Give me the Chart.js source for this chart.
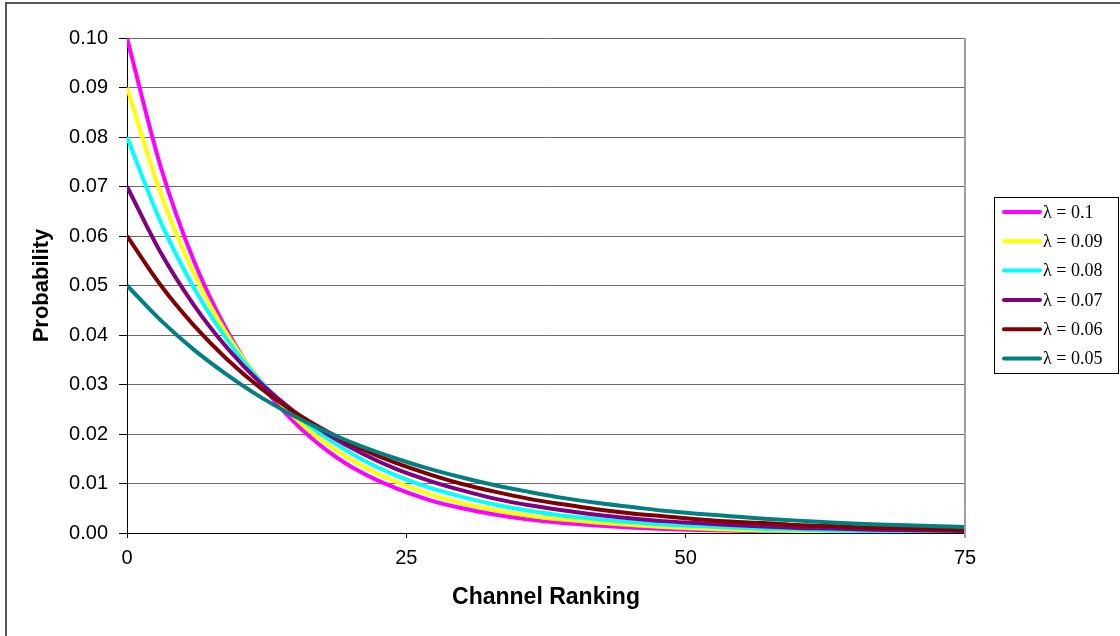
<!DOCTYPE html>
<html>
<head>
<meta charset="utf-8">
<script src="https://cdn.jsdelivr.net/npm/chart.js@4/dist/chart.umd.min.js"></script>
<style>
  html, body { margin: 0; padding: 0; background: #fff; }
  #wrap { position: relative; width: 1120px; height: 636px; overflow: hidden; }
</style>
</head>
<body>
<div id="wrap"><canvas id="c" width="1120" height="636"></canvas></div>
<script>
// Channel ranking positions (x)
const ranks = [0,3,6,9,12,15,18,21,24,27,30,33,36,39,42,45,48,51,54,57,60,63,66,69,72,75];

// Series labels
const seriesLabels = ['\u03BB = 0.1','\u03BB = 0.09','\u03BB = 0.08','\u03BB = 0.07','\u03BB = 0.06','\u03BB = 0.05'];

// Probability values
const lambda010 = [0.1000,0.0741,0.0549,0.0407,0.0301,0.0223,0.0165,0.0122,0.0091,0.0067,0.0050,0.0037,0.0027,0.0020,0.0015,0.0011,0.0008,0.0006,0.0005,0.0003,0.0002,0.0002,0.0001,0.0001,0.0001,0.0001];
const lambda009 = [0.0900,0.0687,0.0524,0.0400,0.0306,0.0233,0.0178,0.0136,0.0104,0.0079,0.0060,0.0046,0.0035,0.0027,0.0021,0.0016,0.0012,0.0009,0.0007,0.0005,0.0004,0.0003,0.0002,0.0002,0.0001,0.0001];
const lambda008 = [0.0800,0.0629,0.0495,0.0389,0.0306,0.0241,0.0190,0.0149,0.0117,0.0092,0.0073,0.0057,0.0045,0.0035,0.0028,0.0022,0.0017,0.0014,0.0011,0.0008,0.0007,0.0005,0.0004,0.0003,0.0003,0.0002];
const lambda007 = [0.0700,0.0567,0.0460,0.0373,0.0302,0.0245,0.0199,0.0161,0.0130,0.0106,0.0086,0.0069,0.0056,0.0046,0.0037,0.0030,0.0024,0.0020,0.0016,0.0013,0.0010,0.0009,0.0007,0.0006,0.0005,0.0004];
const lambda006 = [0.0600,0.0501,0.0419,0.0350,0.0292,0.0244,0.0204,0.0170,0.0142,0.0119,0.0099,0.0083,0.0069,0.0058,0.0048,0.0040,0.0034,0.0028,0.0023,0.0020,0.0016,0.0014,0.0011,0.0010,0.0008,0.0007];
const lambda005 = [0.0500,0.0430,0.0370,0.0319,0.0274,0.0236,0.0203,0.0175,0.0151,0.0130,0.0112,0.0096,0.0083,0.0071,0.0061,0.0053,0.0045,0.0039,0.0034,0.0029,0.0025,0.0021,0.0018,0.0016,0.0014,0.0012];

// Axis ticks
const xTickValues = [0,25,50,75];
const yTickValues = [0,0.01,0.02,0.03,0.04,0.05,0.06,0.07,0.08,0.09,0.10];

const seriesValues = [lambda010, lambda009, lambda008, lambda007, lambda006, lambda005];
const seriesColors = ['#FF00FF','#FFFF00','#00FFFF','#800080','#800000','#008080'];

Chart.defaults.font.family = '"Liberation Sans", Arial, sans-serif';
Chart.defaults.color = '#000';

const datasets = seriesValues.map((vals, i) => ({
  label: seriesLabels[i],
  data: ranks.map((r, j) => ({ x: r, y: vals[j] })),
  borderColor: seriesColors[i],
  backgroundColor: seriesColors[i],
  borderWidth: 4,
  pointRadius: 0,
  pointHoverRadius: 0,
  fill: false,
  cubicInterpolationMode: 'monotone',
  order: seriesValues.length - i
}));

const framePlugin = {
  id: 'frameAndLegend',
  beforeDraw(chart) {
    const ctx = chart.ctx;
    ctx.save();
    ctx.fillStyle = '#fff';
    ctx.fillRect(0, 0, chart.width, chart.height);
    ctx.restore();
  },
  afterDraw(chart) {
    const ctx = chart.ctx;
    const ca = chart.chartArea;
    ctx.save();
    // right plot border
    ctx.strokeStyle = '#a0a0a0';
    ctx.lineWidth = 2;
    ctx.beginPath();
    ctx.moveTo(ca.right, ca.top);
    ctx.lineTo(ca.right, ca.bottom + 5);
    ctx.stroke();
    // outer frame
    ctx.strokeStyle = '#555';
    ctx.lineWidth = 2;
    ctx.strokeRect(6, 3, 1200, 700);
    // legend box
    const bx = 994.5, by = 197.5, bw = 124, bh = 176;
    ctx.fillStyle = '#fff';
    ctx.fillRect(bx, by, bw, bh);
    ctx.strokeStyle = '#000';
    ctx.lineWidth = 1;
    ctx.strokeRect(bx, by, bw, bh);
    ctx.font = '18px "Liberation Serif", "Times New Roman", serif';
    ctx.textBaseline = 'middle';
    ctx.textAlign = 'left';
    chart.data.datasets.forEach((ds, i) => {
      const y = 212 + i * 29.3;
      ctx.strokeStyle = ds.borderColor;
      ctx.lineWidth = 4;
      ctx.lineCap = 'round';
      ctx.beginPath();
      ctx.moveTo(1004, y);
      ctx.lineTo(1040, y);
      ctx.stroke();
      ctx.fillStyle = '#000';
      ctx.fillText(ds.label, 1043, y + 1);
    });
    ctx.restore();
  }
};

new Chart(document.getElementById('c'), {
  type: 'line',
  data: { datasets },
  options: {
    responsive: false,
    animation: false,
    events: [],
    layout: { padding: { top: 38, right: 155, bottom: 0, left: 0 } },
    plugins: { legend: { display: false }, tooltip: { enabled: false } },
    scales: {
      x: {
        type: 'linear',
        min: 0, max: 75,
        afterFit: (s) => { s.height = 103; },
        afterBuildTicks: (s) => { s.ticks = xTickValues.map(v => ({ value: v })); },
        ticks: { font: { size: 20 }, padding: 8, maxRotation: 0, autoSkip: false, color: '#000' },
        grid: { drawOnChartArea: false, drawTicks: true, tickLength: 5, tickColor: '#000', color: '#000' },
        border: { display: true, color: '#000', width: 1 },
        title: { display: true, text: 'Channel Ranking', font: { size: 23, weight: 'bold' }, padding: { top: 0, bottom: 25 }, color: '#000' }
      },
      y: {
        min: 0, max: 0.1,
        afterFit: (s) => { s.width = 127; },
        afterBuildTicks: (s) => { s.ticks = yTickValues.map(v => ({ value: v })); },
        ticks: { font: { size: 20 }, padding: 11, color: '#000', callback: (v) => Number(v).toFixed(2) },
        grid: { color: '#6a6a6a', lineWidth: 1, tickLength: 8, tickColor: '#000' },
        border: { display: true, color: '#000', width: 1 },
        title: { display: true, text: 'Probability', font: { size: 22, weight: 'bold' }, padding: { top: 29, bottom: 0 }, color: '#000' }
      }
    }
  },
  plugins: [framePlugin]
});
</script>
</body>
</html>
